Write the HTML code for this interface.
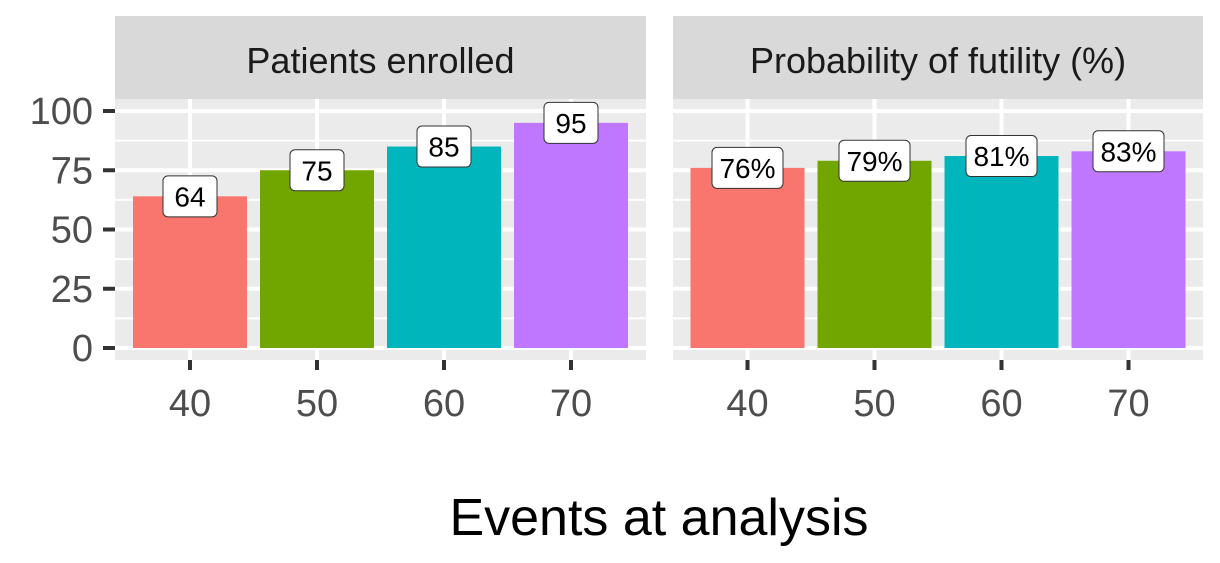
<!DOCTYPE html>
<html><head><meta charset="utf-8"><style>
body{margin:0;background:#fff;}
svg{display:block;font-family:"Liberation Sans",sans-serif;}
</style></head><body>
<svg id="chart" width="1220" height="563"></svg>
<script>
const categories=["40","50","60","70"];
const enrolledValues=[64,75,85,95];
const futilityValues=[76,79,81,83];
const futilityLabels=["76%","79%","81%","83%"];
const enrolledLabels=["64","75","85","95"];
const yTicks=[0,25,50,75,100];
const panelTitles=["Patients enrolled","Probability of futility (%)"];
const barColors=["#F8766D","#71A500","#00B6BC","#C077FF"];
const NS="http://www.w3.org/2000/svg";
const svg=document.getElementById('chart');
function mk(t,a,p){const e=document.createElementNS(NS,t);for(const k in a)e.setAttribute(k,a[k]);(p||svg).appendChild(e);return e;}
const y0=348,yTop=111,plotTop=99,plotBot=360;
function y(v){return y0-(v/100)*(y0-yTop);}
const panels=[{x0:115,x1:646,vals:enrolledValues,labs:enrolledLabels},{x0:673,x1:1203,vals:futilityValues,labs:futilityLabels}];
panels.forEach((p,pi)=>{
 const g=mk('g',{});
 
 
 const w=p.x1-p.x0;
 function x(i){return p.x0+w/2+(i-(categories.length-1)/2)*127;}
 mk('rect',{x:p.x0,y:plotTop,width:w,height:plotBot-plotTop,fill:'#EBEBEB'},g);
 for(let i=0;i<yTicks.length-1;i++){const v=(yTicks[i]+yTicks[i+1])/2;mk('line',{x1:p.x0,x2:p.x1,y1:y(v),y2:y(v),stroke:'#fff','stroke-width':2},g);}
 yTicks.forEach(v=>mk('line',{x1:p.x0,x2:p.x1,y1:y(v),y2:y(v),stroke:'#fff','stroke-width':4},g));
 categories.forEach((c,i)=>mk('line',{x1:x(i),x2:x(i),y1:plotTop,y2:plotBot,stroke:'#fff','stroke-width':4},g));
 const strip=mk('rect',{x:p.x0,y:16,width:w,height:83,fill:'#D9D9D9'},g);
 
 
 const st=mk('text',{x:p.x0+w/2,y:73,'text-anchor':'middle','font-size':36,fill:'#1a1a1a'},g);
 st.textContent=panelTitles[pi];
 
 
 categories.forEach((c,i)=>{
  const b=mk('rect',{x:x(i)-57,y:y(p.vals[i]),width:114,height:y(0)-y(p.vals[i]),fill:barColors[i]},g);
  
  
  const tw=p.labs[i].length*17+20;
  const lb=mk('rect',{x:x(i)-tw/2,y:y(p.vals[i])-20.5,width:tw,height:41,rx:5,fill:'#fff',stroke:'#333','stroke-width':1},g);
  
  
  const t=mk('text',{x:x(i),y:y(p.vals[i])+10,'text-anchor':'middle','font-size':28,fill:'#000'},g);
  t.textContent=p.labs[i];
  
  
  mk('line',{x1:x(i),x2:x(i),y1:plotBot,y2:plotBot+10,stroke:'#333','stroke-width':4},g);
  const tl=mk('text',{x:x(i),y:416,'text-anchor':'middle','font-size':38,fill:'#4D4D4D'},g);
  tl.textContent=c;
  
  
 });
});
yTicks.forEach(v=>{
 mk('line',{x1:103,x2:115,y1:y(v),y2:y(v),stroke:'#333','stroke-width':4});
 const t=mk('text',{x:93,y:y(v)+13,'text-anchor':'end','font-size':38,fill:'#4D4D4D'});
 t.textContent=v;
 
 
});
const xt=mk('text',{x:659,y:535,'text-anchor':'middle','font-size':52,fill:'#000'});
xt.textContent="Events at analysis";


</script>
</body></html>
